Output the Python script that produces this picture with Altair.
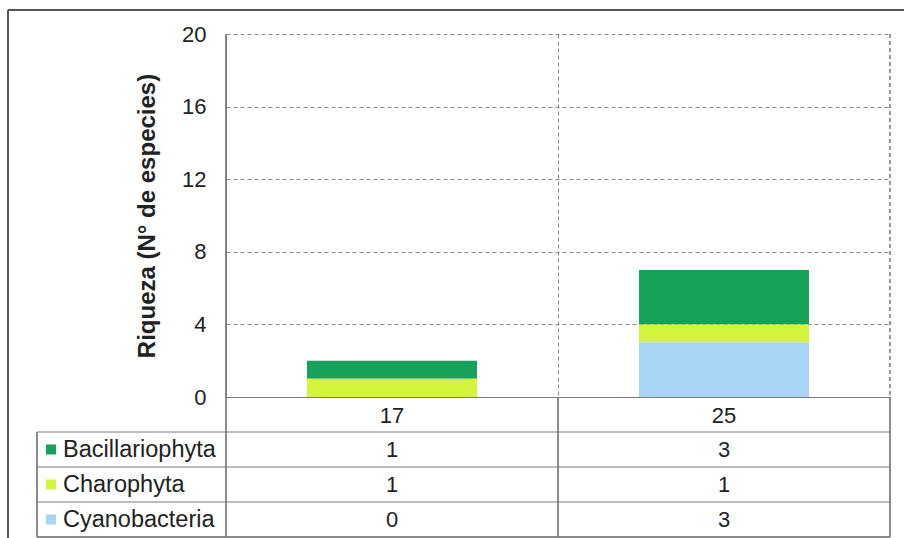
import altair as alt
import pandas as pd

# Species richness per site, split by algal group
sitios = ["17", "25"]
grupos = ["Bacillariophyta", "Charophyta", "Cyanobacteria"]
bacillariophyta = [1, 3]
charophyta = [1, 1]
cyanobacteria = [0, 3]
colores = ["#17a25c", "#d2f53c", "#a8d4f6"]
orden_pila = {"Cyanobacteria": 0, "Charophyta": 1, "Bacillariophyta": 2}

filas = []
for grupo, valores in zip(grupos, [bacillariophyta, charophyta, cyanobacteria]):
    for sitio, v in zip(sitios, valores):
        filas.append({"sitio": sitio, "grupo": grupo, "valor": v, "orden": orden_pila[grupo]})
df = pd.DataFrame(filas)
leyenda = pd.DataFrame({"grupo": grupos})

W, H = 664, 363
FONT = "Liberation Sans"
LINEA = "#7a7a7a"

x_enc = alt.X(
    "sitio:N",
    scale=alt.Scale(domain=sitios, paddingInner=0, paddingOuter=0),
    axis=alt.Axis(
        title=None, labelAngle=0, labelFontSize=22, labelPadding=8, labelColor="#222",
        labelFont=FONT, ticks=False, domainColor=LINEA, grid=True, bandPosition=0,
        gridDash=[4, 3], gridColor="#8a8a8a",
    ),
)
color_enc = alt.Color("grupo:N", scale=alt.Scale(domain=grupos, range=colores), legend=None)

barras = alt.Chart(df).mark_bar(size=170).encode(
    x=x_enc,
    y=alt.Y(
        "valor:Q",
        stack="zero",
        scale=alt.Scale(domain=[0, 20], nice=False),
        axis=alt.Axis(
            values=[0, 4, 8, 12, 16, 20], title="Riqueza (N° de especies)",
            titleFontSize=24, titleFont=FONT, titleFontWeight="bold", titleColor="#222",
            titleX=-79, titleY=H / 2, titleAlign="center", titleBaseline="middle",
            labelFontSize=22, labelFont=FONT, labelColor="#222", labelPadding=20,
            ticks=False, domainColor=LINEA, grid=True, gridDash=[4, 3], gridColor="#8a8a8a",
        ),
    ),
    color=color_enc,
    order=alt.Order("orden:Q"),
)

# Right border of the plot area (dashed like the grid)
borde_der = alt.Chart(leyenda).mark_rule(color="#8a8a8a", strokeDash=[4, 3]).encode(
    x=alt.value(W), y=alt.value(0), y2=alt.value(H)
)

# Data table under the plot
y_tabla = alt.Y(
    "grupo:N",
    scale=alt.Scale(type="point", domain=grupos, range=[H + 35, H + 140], padding=0.5),
    axis=None,
)

valores_tabla = alt.Chart(df).mark_text(
    fontSize=22, font=FONT, color="#222", baseline="middle", align="center"
).encode(x=alt.X("sitio:N"), y=y_tabla, text=alt.Text("valor:Q"))

muestras = alt.Chart(leyenda).mark_square(size=100, opacity=1).encode(
    x=alt.value(-175), y=y_tabla, color=color_enc
)
nombres = alt.Chart(leyenda).mark_text(
    fontSize=23.5, font=FONT, color="#222", baseline="middle", align="left"
).encode(x=alt.value(-163), y=y_tabla, text="grupo:N")

lineas_h = alt.Chart(leyenda).mark_rule(color=LINEA, strokeWidth=1).encode(
    x=alt.value(-189), x2=alt.value(W), y=y_tabla, yOffset=alt.value(-17.5)
)
linea_h_fin = alt.Chart(leyenda).mark_rule(color=LINEA, strokeWidth=1).encode(
    x=alt.value(-189), x2=alt.value(W), y=alt.value(H + 140)
)
lineas_v = [
    alt.Chart(leyenda).mark_rule(color=LINEA, strokeWidth=1).encode(
        x=alt.value(xv), y=alt.value(y0), y2=alt.value(H + 140)
    )
    for xv, y0 in [(-189, H + 35), (0, 0), (W / 2, H), (W, H)]
]

# Outer frame
marco_sup = alt.Chart(leyenda).mark_rule(color="#555", strokeWidth=2).encode(
    x=alt.value(-218), x2=alt.value(W + 20), y=alt.value(-24)
)
marco_izq = alt.Chart(leyenda).mark_rule(color="#555", strokeWidth=2).encode(
    x=alt.value(-218), y=alt.value(-24), y2=alt.value(H + 150)
)

chart = (
    alt.layer(
        barras, borde_der, valores_tabla, muestras, nombres, lineas_h, linea_h_fin,
        *lineas_v, marco_sup, marco_izq,
    )
    .resolve_scale(y="independent")
    .properties(
        width=W,
        height=H,
        autosize=alt.AutoSizeParams(type="none"),
        padding={"left": 226, "top": 34, "right": 14, "bottom": 141},
        background="white",
    )
    .configure_view(stroke=None)
)

chart.save("out.html", embed_options={"renderer": "svg", "actions": False})
